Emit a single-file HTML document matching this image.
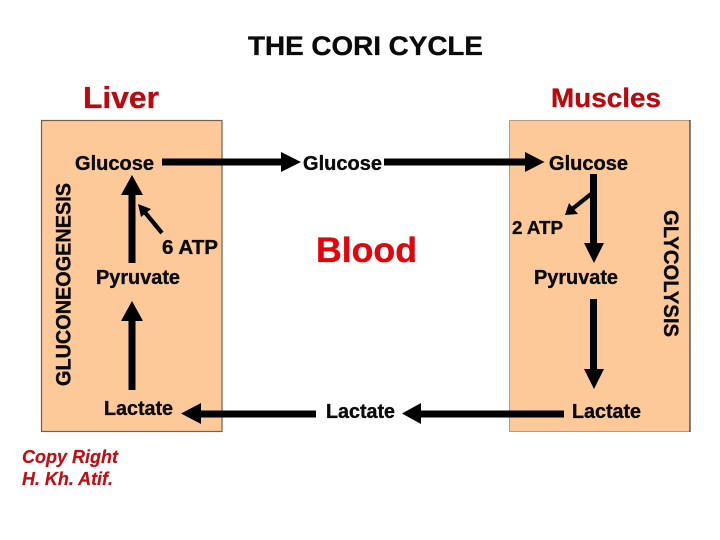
<!DOCTYPE html>
<html><head><meta charset="utf-8"><style>
html,body{margin:0;padding:0;background:#fff;width:720px;height:540px;overflow:hidden}
svg{display:block}
text{font-family:"Liberation Sans",Arial,sans-serif;font-weight:bold;fill:#0a0a0a;stroke:#0a0a0a;stroke-width:.35px}
.r{fill:#bb0a0f;stroke:#bb0a0f}
.b{fill:#e0060c;stroke:#e0060c}
.c{font-style:italic;fill:#c20d14;stroke:#c20d14;stroke-width:.2px}
.n{font-size:20px}
</style></head><body>
<svg width="720" height="540" viewBox="0 0 720 540" xmlns="http://www.w3.org/2000/svg">
<rect x="41.5" y="120.5" width="180.5" height="311" fill="#fdc998" stroke="#76604a" stroke-width="1.2"/>
<rect x="509.5" y="120.5" width="180.5" height="311" fill="#fdc998"/>
<path d="M509.5 120.5H690M509.5 120.5V431.5H690" fill="none" stroke="#b89a78" stroke-width="1"/>
<path d="M690 120V432" stroke="#111" stroke-width="1"/>

<text x="248" y="55" font-size="27" textLength="235" lengthAdjust="spacingAndGlyphs">THE CORI CYCLE</text>
<text x="83" y="108" font-size="31" class="r" textLength="76" lengthAdjust="spacingAndGlyphs">Liver</text>
<text x="551" y="107" font-size="27" class="r" textLength="110" lengthAdjust="spacingAndGlyphs">Muscles</text>
<text x="316" y="262" font-size="35" class="b" textLength="101" lengthAdjust="spacingAndGlyphs">Blood</text>

<text class="n" x="75" y="170" textLength="79" lengthAdjust="spacingAndGlyphs">Glucose</text>
<text class="n" x="303" y="170" textLength="79" lengthAdjust="spacingAndGlyphs">Glucose</text>
<text class="n" x="549" y="170" textLength="79" lengthAdjust="spacingAndGlyphs">Glucose</text>
<text class="n" x="162" y="254" textLength="56" lengthAdjust="spacingAndGlyphs">6 ATP</text>
<text x="512" y="234" font-size="18" textLength="51" lengthAdjust="spacingAndGlyphs">2 ATP</text>
<text class="n" x="96" y="284" textLength="84" lengthAdjust="spacingAndGlyphs">Pyruvate</text>
<text class="n" x="534" y="284" textLength="84" lengthAdjust="spacingAndGlyphs">Pyruvate</text>
<text class="n" x="104" y="415" textLength="69" lengthAdjust="spacingAndGlyphs">Lactate</text>
<text class="n" x="326" y="418" textLength="69" lengthAdjust="spacingAndGlyphs">Lactate</text>
<text class="n" x="572" y="418" textLength="69" lengthAdjust="spacingAndGlyphs">Lactate</text>

<text transform="translate(70.5,386) rotate(-90)" font-size="21" textLength="203" lengthAdjust="spacingAndGlyphs">GLUCONEOGENESIS</text>
<text transform="translate(664,210) rotate(90)" font-size="21" textLength="127" lengthAdjust="spacingAndGlyphs">GLYCOLYSIS</text>

<text x="22" y="463" font-size="18" class="c" textLength="96" lengthAdjust="spacingAndGlyphs">Copy Right</text>
<text x="22" y="485" font-size="18" class="c" textLength="91" lengthAdjust="spacingAndGlyphs">H. Kh. Atif.</text>

<g fill="#000">
<path d="M162 158.5H281V152L301 162L281 172V165.5H162Z"/>
<path d="M384 158.5H525V152L544.5 162L525 172V165.5H384Z"/>
<path d="M564 410.5H421V403L402 413.5L421 424V417.5H564Z"/>
<path d="M316 410.5H201V403L181 413.5L201 424V417.5H316Z"/>
<path d="M128.5 263V195H121L132 175L143 195H135.5V263Z"/>
<path d="M128.5 390V321H121L132 301L143 321H135.5V390Z"/>
<path d="M590 174V243H584L594 263L604 243H597V174Z"/>
<path d="M590 299V369H584L594 389L604 369H597V299Z"/>
</g>
<path d="M162 233L143 210" stroke="#000" stroke-width="4.2" fill="none"/>
<path d="M138 204L151 209L141 217Z" fill="#000"/>
<path d="M591 194L571 210" stroke="#000" stroke-width="4.2" fill="none"/>
<path d="M565 215L569 203L578 214Z" fill="#000"/>
</svg>
</body></html>
